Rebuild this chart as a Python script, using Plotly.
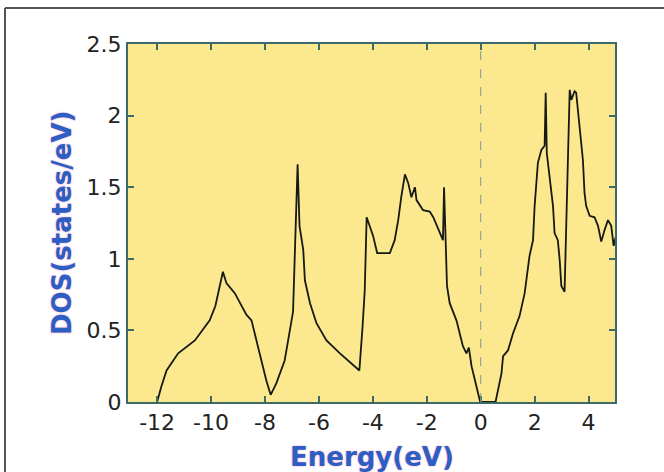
import plotly.graph_objects as go

# ---- data ----
energy = [-12.0, -11.84, -11.65, -11.22, -10.6, -10.05, -9.84, -9.74, -9.56, -9.43,
          -9.12, -8.69, -8.5, -8.2, -7.95, -7.79, -7.58, -7.27, -6.96, -6.93,
          -6.88, -6.84, -6.79, -6.72, -6.58, -6.52, -6.33, -6.09, -5.72, -5.22,
          -4.85, -4.5, -4.38, -4.3, -4.23, -4.11, -3.99, -3.84, -3.37, -3.19,
          -3.06, -2.94, -2.81, -2.69, -2.57, -2.44, -2.38, -2.14, -1.89, -1.76,
          -1.52, -1.4, -1.36, -1.31, -1.25, -1.15, -0.9, -0.66, -0.53, -0.44,
          -0.34, -0.16, -0.02, 0.55, 0.77, 0.83, 1.01, 1.2, 1.44, 1.63,
          1.81, 1.94, 2.0, 2.12, 2.25, 2.37, 2.41, 2.45, 2.56, 2.68,
          2.74, 2.86, 2.93, 2.99, 3.11, 3.2, 3.3, 3.36, 3.48, 3.54,
          3.67, 3.79, 3.85, 3.91, 4.04, 4.22, 4.35, 4.47, 4.59, 4.72,
          4.84, 4.93, 5.0]
dos = [0.0, 0.11, 0.22, 0.34, 0.43, 0.57, 0.67, 0.76, 0.91, 0.83,
       0.76, 0.61, 0.57, 0.34, 0.15, 0.05, 0.13, 0.29, 0.63, 0.81,
       1.13, 1.25, 1.66, 1.23, 1.06, 0.85, 0.69, 0.55, 0.43, 0.34,
       0.28, 0.22, 0.53, 0.78, 1.29, 1.22, 1.16, 1.04, 1.04, 1.13,
       1.27, 1.44, 1.59, 1.53, 1.43, 1.50, 1.41, 1.34, 1.33, 1.29,
       1.18, 1.13, 1.50, 1.11, 0.81, 0.69, 0.57, 0.39, 0.34, 0.38,
       0.25, 0.11, 0.0, 0.0, 0.2, 0.32, 0.36, 0.48, 0.60, 0.76,
       1.02, 1.13, 1.37, 1.67, 1.76, 1.79, 2.16, 1.74, 1.58, 1.37,
       1.18, 1.13, 0.99, 0.81, 0.77, 1.39, 2.18, 2.11, 2.17, 2.16,
       1.93, 1.69, 1.46, 1.37, 1.30, 1.29, 1.23, 1.12, 1.20, 1.27,
       1.23, 1.09, 1.15]

x_tick_vals = [-12, -10, -8, -6, -4, -2, 0, 2, 4]
x_tick_text = ["-12", "-10", "-8", "-6", "-4", "-2", "0", "2", "4"]
y_tick_vals = [0, 0.5, 1, 1.5, 2, 2.5]
y_tick_text = ["0", "0.5", "1", "1.5", "2", "2.5"]

x_title = "Energy(eV)"
y_title = "DOS(states/eV)"

# ---- figure ----
W, H = 664, 472
L, R, T, B = 128, 49, 44, 70
pw, ph = W - L - R, H - T - B

frame = "#3d6a66"
title_color = "#2d5ec2"

fig = go.Figure()
fig.add_trace(go.Scatter(x=energy, y=dos, mode="lines",
                         line=dict(color="#161a14", width=1.8),
                         hoverinfo="skip", showlegend=False))

axis_common = dict(showline=True, linecolor=frame, linewidth=2, mirror="ticks",
                   ticks="inside", ticklen=6, tickwidth=2, tickcolor=frame,
                   showgrid=False, zeroline=False,
                   tickfont=dict(family="DejaVu Sans", size=22, color="#222222"))

fig.update_xaxes(range=[-13.08, 4.98], tickvals=x_tick_vals, ticktext=x_tick_text,
                 **axis_common)
fig.update_yaxes(range=[0, 2.5], tickvals=y_tick_vals, ticktext=y_tick_text,
                 **axis_common)

title_font = dict(family="DejaVu Sans", size=26, color=title_color, weight="bold",
                  shadow="0px 0px 2px #ee8fc0")

fig.add_annotation(text=x_title, xref="paper", yref="paper",
                   x=0.5, y=(402 - 457) / ph, xanchor="center", yanchor="middle",
                   showarrow=False, font=title_font)
fig.add_annotation(text=y_title, xref="paper", yref="paper",
                   x=(62 - L) / pw, y=0.5, xanchor="center", yanchor="middle",
                   textangle=-90, showarrow=False, font=title_font)

# Fermi level marker
fig.add_shape(type="line", xref="x", yref="paper", x0=0, x1=0, y0=0, y1=1,
              line=dict(color="#7f9890", width=1, dash="dash"))

# outer border lines (top and left) of the picture
px = lambda v: (v - L) / pw
py = lambda v: 1 - (v - T) / ph
fig.add_shape(type="line", xref="paper", yref="paper",
              x0=px(5), x1=px(W + 5), y0=py(8), y1=py(8),
              line=dict(color="#555555", width=2))
fig.add_shape(type="line", xref="paper", yref="paper",
              x0=px(5), x1=px(5), y0=py(8), y1=py(H + 5),
              line=dict(color="#555555", width=2))

fig.update_layout(width=W, height=H, margin=dict(l=L, r=R, t=T, b=B),
                  paper_bgcolor="white", plot_bgcolor="#fbe88f",
                  showlegend=False)

fig.write_html("out.html", config={"displayModeBar": False},
               post_script="document.body.style.margin='0';")
